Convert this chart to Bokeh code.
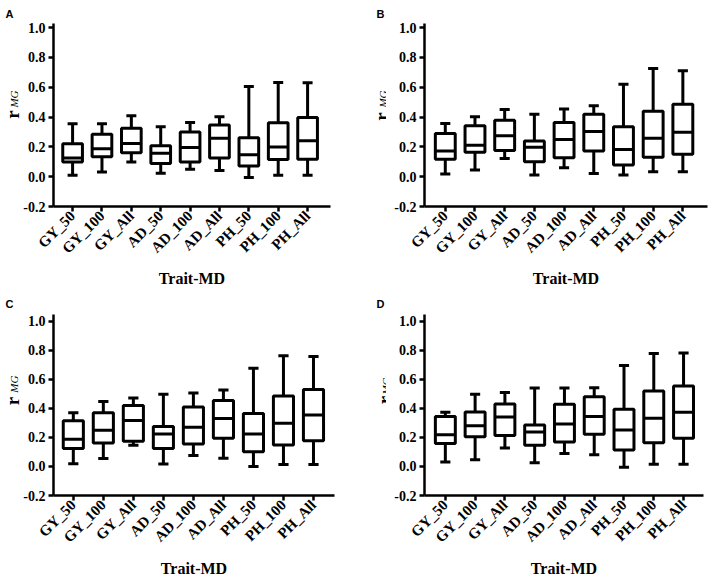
import math
from bokeh.plotting import figure
from bokeh.layouts import column, row
from bokeh.models import Label, FixedTicker, Range1d
from bokeh.core.properties import value
from bokeh.embed import file_html
from bokeh.resources import INLINE

categories = ["GY_50", "GY_100", "GY_All", "AD_50", "AD_100", "AD_All", "PH_50", "PH_100", "PH_All"]
y_ticks = [-0.2, 0.0, 0.2, 0.4, 0.6, 0.8, 1.0]
y_tick_labels = ["-0.2", "0.0", "0.2", "0.4", "0.6", "0.8", "1.0"]
panel_letters = ["A", "B", "C", "D"]
x_axis_title = "Trait-MD"
y_axis_main = "r"
y_axis_sub = "MG"

# Panel A
a_low = [0.009, 0.032, 0.099, 0.023, 0.050, 0.041, -0.005, 0.009, 0.009]
a_q1 = [0.099, 0.133, 0.160, 0.088, 0.099, 0.126, 0.072, 0.115, 0.117]
a_med = [0.125, 0.188, 0.222, 0.157, 0.196, 0.257, 0.147, 0.199, 0.241]
a_q3 = [0.221, 0.284, 0.325, 0.207, 0.299, 0.346, 0.261, 0.362, 0.397]
a_high = [0.354, 0.354, 0.409, 0.334, 0.364, 0.402, 0.605, 0.631, 0.629]

# Panel B
b_low = [0.018, 0.045, 0.121, 0.011, 0.060, 0.022, 0.011, 0.033, 0.033]
b_q1 = [0.116, 0.163, 0.175, 0.100, 0.127, 0.172, 0.078, 0.130, 0.151]
b_med = [0.172, 0.210, 0.274, 0.197, 0.249, 0.303, 0.182, 0.258, 0.298]
b_q3 = [0.289, 0.341, 0.379, 0.240, 0.363, 0.418, 0.334, 0.438, 0.486]
b_high = [0.357, 0.401, 0.450, 0.418, 0.454, 0.475, 0.620, 0.726, 0.710]

# Panel C
c_low = [0.019, 0.055, 0.146, 0.017, 0.075, 0.057, 0.000, 0.013, 0.013]
c_q1 = [0.123, 0.162, 0.173, 0.123, 0.155, 0.195, 0.101, 0.148, 0.178]
c_med = [0.187, 0.250, 0.317, 0.223, 0.270, 0.330, 0.223, 0.298, 0.355]
c_q3 = [0.315, 0.370, 0.420, 0.275, 0.409, 0.455, 0.365, 0.485, 0.531]
c_high = [0.370, 0.448, 0.472, 0.497, 0.506, 0.527, 0.676, 0.763, 0.757]

# Panel D
d_low = [0.030, 0.047, 0.128, 0.025, 0.090, 0.081, -0.005, 0.016, 0.016]
d_q1 = [0.159, 0.205, 0.213, 0.146, 0.168, 0.222, 0.113, 0.164, 0.195]
d_med = [0.218, 0.281, 0.341, 0.237, 0.292, 0.345, 0.252, 0.332, 0.373]
d_q3 = [0.344, 0.376, 0.430, 0.286, 0.429, 0.481, 0.394, 0.520, 0.554]
d_high = [0.373, 0.497, 0.509, 0.541, 0.541, 0.542, 0.695, 0.778, 0.781]

SERIF = "'Liberation Serif', 'Times New Roman', serif"
SANS = "'Liberation Sans', Arial, sans-serif"
BOX_W = 0.67
CAP_HW = 0.17
LW = 3


def make_strip(letter, s, bt, bb):
    """Narrow strip left of a panel holding the panel letter and the y-axis title.
    Its frame is aligned with the row's frames; its data space equals pixels
    measured from the canvas bottom."""
    w, h = s["w"], s["h"]
    p = figure(width=w, height=h, output_backend="svg", toolbar_location=None, title=None,
               x_range=Range1d(0, w), y_range=Range1d(bb, h - bt),
               x_axis_location=None, y_axis_location=None,
               min_border_left=0, min_border_right=0,
               min_border_top=bt, min_border_bottom=bb)
    p.outline_line_color = None
    p.xgrid.visible = False
    p.ygrid.visible = False
    p.background_fill_color = "white"
    p.border_fill_color = "white"
    # rotated y-axis title: bold "r" with italic subscript "MG"
    p.text(x=[s["r_x"]], y=[h - s["r_y"]], text=[y_axis_main], angle=math.pi / 2,
           text_font=value(SERIF), text_font_style="bold", text_font_size=value("19px"),
           text_align="center", text_baseline="alphabetic", text_color="black")
    p.text(x=[s["m_x"]], y=[h - s["m_y"]], text=[y_axis_sub], angle=math.pi / 2,
           text_font=value(SERIF), text_font_style="italic", text_font_size=value("11px"),
           text_align="center", text_baseline="alphabetic", text_color="black")
    # panel letter, in the strip's top side panel
    p.add_layout(Label(x=s["l_x"], y=h - s["l_y"], text=letter,
                       text_font=SANS, text_font_style="bold", text_font_size="11px",
                       text_align="left", text_baseline="alphabetic", text_color="black"), "above")
    return p


def make_panel(low, q1, med, q3, high, cfg, bt, bb, yr):
    x0, x1 = cfg["xr"]
    p = figure(width=cfg["w"], height=cfg["h"], output_backend="svg", toolbar_location=None,
               x_range=Range1d(x0, x1), y_range=Range1d(*yr),
               min_border_left=cfg["bl"], min_border_right=cfg["br"],
               min_border_top=bt, min_border_bottom=bb)
    p.outline_line_color = None
    p.xgrid.visible = False
    p.ygrid.visible = False
    p.background_fill_color = "white"
    p.border_fill_color = "white"

    xs = list(range(len(categories)))
    # whiskers
    p.segment(x0=xs, x1=xs, y0=q3, y1=high, line_color="black", line_width=LW)
    p.segment(x0=xs, x1=xs, y0=low, y1=q1, line_color="black", line_width=LW)
    # caps
    p.segment(x0=[x - CAP_HW for x in xs], x1=[x + CAP_HW for x in xs], y0=high, y1=high,
              line_color="black", line_width=LW)
    p.segment(x0=[x - CAP_HW for x in xs], x1=[x + CAP_HW for x in xs], y0=low, y1=low,
              line_color="black", line_width=LW)
    # boxes
    p.vbar(x=xs, width=BOX_W, bottom=q1, top=q3, fill_color="white",
           line_color="black", line_width=LW)
    # medians
    p.segment(x0=[x - BOX_W / 2 for x in xs], x1=[x + BOX_W / 2 for x in xs], y0=med, y1=med,
              line_color="black", line_width=LW)

    for ax in (p.xaxis[0], p.yaxis[0]):
        ax.axis_line_width = 2.5
        ax.axis_line_color = "black"
        ax.major_tick_line_width = 2.5
        ax.major_tick_line_color = "black"
        ax.major_tick_in = 0
        ax.major_tick_out = 5
        ax.minor_tick_line_color = None
        ax.major_label_text_font = SERIF
        ax.major_label_text_font_style = "bold"
        ax.major_label_text_color = "black"

    p.xaxis.ticker = FixedTicker(ticks=xs)
    p.xaxis.major_label_overrides = {i: c for i, c in enumerate(categories)}
    p.xaxis.major_label_orientation = math.pi / 4
    p.xaxis.major_label_text_font_size = "15px"
    p.xaxis.major_label_standoff = 2
    p.xaxis.axis_label = x_axis_title
    p.xaxis.axis_label_text_font = SERIF
    p.xaxis.axis_label_text_font_style = "bold"
    p.xaxis.axis_label_text_font_size = "16px"
    p.xaxis.axis_label_text_color = "black"
    p.xaxis.axis_label_standoff = cfg["xls"]

    p.yaxis.ticker = FixedTicker(ticks=y_ticks)
    p.yaxis.major_label_overrides = {t: s for t, s in zip(y_ticks, y_tick_labels)}
    p.yaxis.major_label_text_font_size = "14px"
    p.yaxis.major_label_standoff = 3
    return p


# shared (aligned) frame borders and value ranges for each row
ROW1_BT, ROW1_BB, ROW1_YR = 23, 84, (-0.2, 1.027)
ROW2_BT, ROW2_BB, ROW2_YR = 24, 79, (-0.2, 1.047)

strip_a = dict(w=20, h=290, r_x=12, r_y=114, m_x=13.5, m_y=98.5, l_x=5, l_y=13)
strip_b = dict(w=32, h=290, r_x=27, r_y=116, m_x=28.5, m_y=98.5, l_x=22, l_y=13)
strip_c = dict(w=20, h=289, r_x=12, r_y=113, m_x=13.5, m_y=95.5, l_x=5, l_y=13)
strip_d = dict(w=32, h=289, r_x=30, r_y=112, m_x=31.5, m_y=97.5, l_x=22, l_y=13)

cfg_a = dict(w=334, h=290, bl=31, br=24, xr=(-0.65, 8.78), xls=5)
cfg_b = dict(w=322, h=290, bl=38, br=1, xr=(-0.70, 8.83), xls=5)
cfg_c = dict(w=334, h=289, bl=31, br=20, xr=(-0.66, 8.70), xls=6)
cfg_d = dict(w=322, h=289, bl=38, br=5, xr=(-0.70, 8.67), xls=6)

pa = make_panel(a_low, a_q1, a_med, a_q3, a_high, cfg_a, ROW1_BT, ROW1_BB, ROW1_YR)
pb = make_panel(b_low, b_q1, b_med, b_q3, b_high, cfg_b, ROW1_BT, ROW1_BB, ROW1_YR)
pc = make_panel(c_low, c_q1, c_med, c_q3, c_high, cfg_c, ROW2_BT, ROW2_BB, ROW2_YR)
pd = make_panel(d_low, d_q1, d_med, d_q3, d_high, cfg_d, ROW2_BT, ROW2_BB, ROW2_YR)

sa = make_strip(panel_letters[0], strip_a, ROW1_BT, ROW1_BB)
sb = make_strip(panel_letters[1], strip_b, ROW1_BT, ROW1_BB)
sc = make_strip(panel_letters[2], strip_c, ROW2_BT, ROW2_BB)
sd = make_strip(panel_letters[3], strip_d, ROW2_BT, ROW2_BB)

layout = column(row(sa, pa, sb, pb), row(sc, pc, sd, pd))
open("out.html", "w").write(file_html(layout, INLINE))
